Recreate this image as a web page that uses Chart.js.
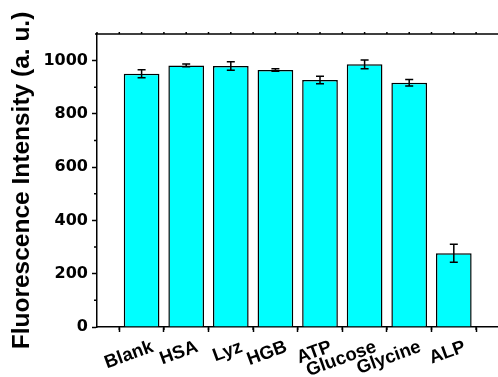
<!DOCTYPE html>
<html>
<head>
<meta charset="utf-8">
<script src="https://cdn.jsdelivr.net/npm/chart.js@4"></script>
<style>
    html, body { margin: 0; padding: 0; background: #fff; overflow: hidden; }
    #wrap { width: 498px; height: 377px; overflow: hidden; }
</style>
</head>
<body>
<div id="wrap">
    <canvas id="chart-selectivity" width="510" height="377"></canvas>
</div>
<script>
// Dados
const categories = ['Blank', 'HSA', 'Lyz', 'HGB', 'ATP', 'Glucose', 'Glycine', 'ALP'];
const intensity = [951, 982, 980, 965, 927, 986, 917, 277];
const errors = [15, 5, 16, 5, 14, 16, 12, 34];
const yTicks = [0, 200, 400, 600, 800, 1000];
const yMax = 1100;

// uma posição vazia em cada ponta do eixo x
const labels = [''].concat(categories, ['']);
const values = [null].concat(intensity, [null]);

// Barras de erro, ticks menores e moldura de cima
const extrasPlugin = {
    id: 'extras',
    afterDatasetsDraw(chart) {
        const ctx = chart.ctx;
        const x = chart.scales.x;
        const y = chart.scales.y;
        ctx.save();
        ctx.strokeStyle = '#000';
        ctx.lineWidth = 1.5;
        intensity.forEach((v, i) => {
            const px = x.getPixelForValue(i + 1);
            const top = y.getPixelForValue(v + errors[i]);
            const bot = y.getPixelForValue(v - errors[i]);
            ctx.beginPath();
            ctx.moveTo(px, top); ctx.lineTo(px, bot);
            ctx.moveTo(px - 4, top); ctx.lineTo(px + 4, top);
            ctx.moveTo(px - 4, bot); ctx.lineTo(px + 4, bot);
            ctx.stroke();
        });
        ctx.restore();
    },
    afterDraw(chart) {
        const ctx = chart.ctx;
        const area = chart.chartArea;
        const x = chart.scales.x;
        const y = chart.scales.y;
        ctx.save();
        ctx.strokeStyle = '#000';
        ctx.lineWidth = 1.5;
        ctx.beginPath();
        // linha de cima
        ctx.moveTo(area.left - 2, area.top);
        ctx.lineTo(area.right, area.top);
        // ticks menores no eixo y
        for (let v = 100; v < yMax; v += 200) {
            const py = y.getPixelForValue(v);
            ctx.moveTo(area.left - 3, py); ctx.lineTo(area.left, py);
        }
        // ticks menores no eixo x, e pequenos ticks na linha de cima
        for (let i = 0; i < labels.length - 1; i++) {
            const p0 = x.getPixelForValue(i);
            const pm = (p0 + x.getPixelForValue(i + 1)) / 2;
            ctx.moveTo(pm, area.bottom); ctx.lineTo(pm, area.bottom + 3);
            ctx.moveTo(pm, area.top); ctx.lineTo(pm, area.top - 2);
            ctx.moveTo(p0, area.top); ctx.lineTo(p0, area.top - 2);
        }
        ctx.stroke();
        ctx.restore();
    }
};

new Chart(document.getElementById('chart-selectivity'), {
    type: 'bar',
    data: {
        labels: labels,
        datasets: [{
            data: values,
            backgroundColor: '#00ffff',
            borderColor: '#000',
            borderWidth: 1.5,
            barPercentage: 0.8,
            categoryPercentage: 1.0
        }]
    },
    options: {
        responsive: false,
        animation: false,
        layout: { padding: { top: 34, left: 5, right: 0, bottom: 0 } },
        plugins: {
            legend: { display: false },
            tooltip: { enabled: false }
        },
        scales: {
            x: {
                offset: false,
                afterFit(scale) { scale.height = 50; },
                border: { display: true, color: '#000', width: 1.5 },
                grid: {
                    drawOnChartArea: false,
                    tickLength: 5,
                    tickColor: '#000',
                    tickWidth: 1.5
                },
                ticks: {
                    autoSkip: false,
                    minRotation: 20,
                    maxRotation: 20,
                    labelOffset: 11,
                    padding: 4,
                    color: '#000',
                    font: { family: '"Liberation Sans", Arial, sans-serif', size: 18.5, weight: 'bold' }
                }
            },
            y: {
                min: 0,
                max: yMax,
                afterFit(scale) { scale.width = 92; },
                border: { display: true, color: '#000', width: 1.5 },
                grid: {
                    drawOnChartArea: false,
                    tickLength: 5,
                    tickWidth: 1.5,
                    tickColor: (c) => yTicks.includes(c.tick.value) ? '#000' : 'rgba(0,0,0,0)'
                },
                ticks: {
                    stepSize: 100,
                    padding: 4,
                    color: '#000',
                    font: { family: '"DejaVu Sans", sans-serif', size: 16, weight: 'bold' },
                    callback: (v) => yTicks.includes(v) ? String(v) : ''
                },
                title: {
                    display: true,
                    text: 'Fluorescence Intensity (a. u.)',
                    color: '#000',
                    padding: { top: 3, bottom: 0 },
                    font: { family: '"Liberation Sans", Arial, sans-serif', size: 24.5, weight: 'bold' }
                }
            }
        }
    },
    plugins: [extrasPlugin]
});
</script>
</body>
</html>
